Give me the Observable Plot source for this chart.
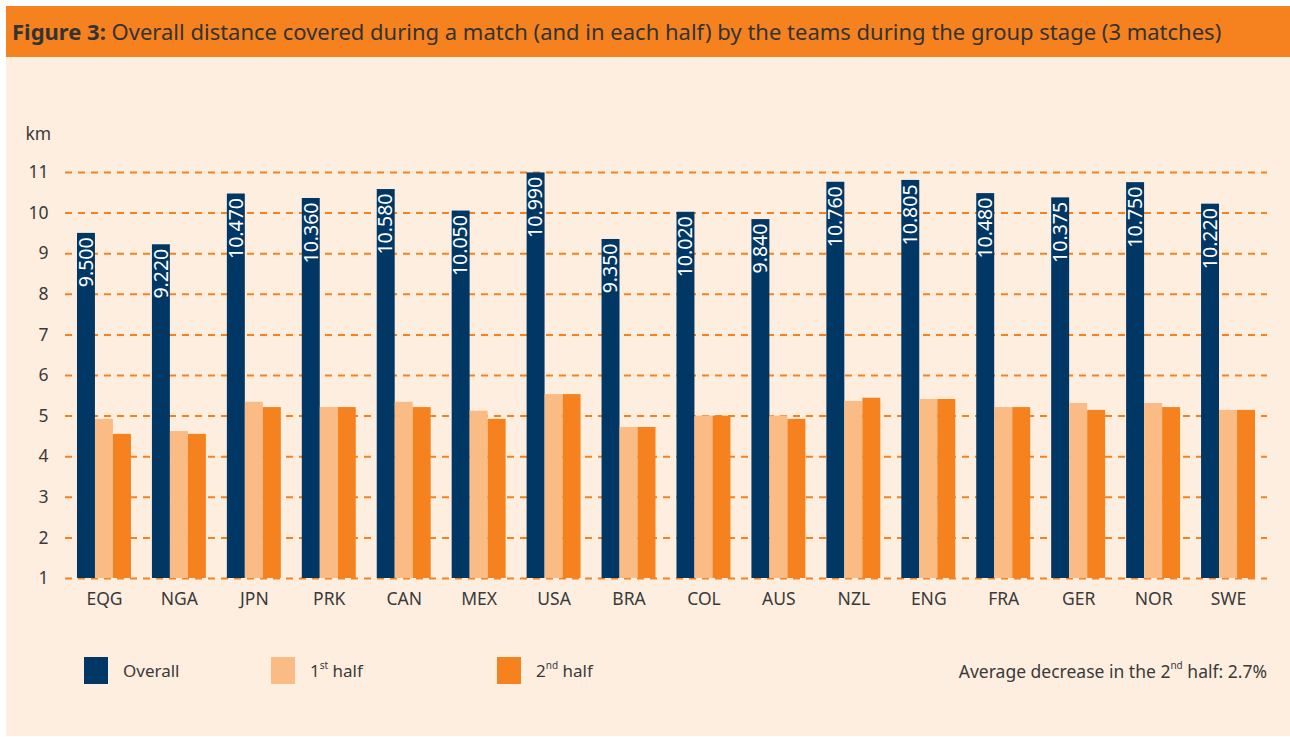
<!DOCTYPE html>
<html>
<head>
<meta charset="utf-8">
<script src="https://cdn.jsdelivr.net/npm/d3@7"></script>
<script src="https://cdn.jsdelivr.net/npm/@observablehq/plot@0.6"></script>
<style>
  html, body { margin: 0; padding: 0; background: #ffffff; }
  body { width: 1290px; height: 737px; position: relative; overflow: hidden; font-family: "Noto Sans", "Open Sans", sans-serif; }
  #header { position: absolute; left: 6px; top: 6px; width: 1284px; height: 51px; background: #F5821F; color: #333333; font-size: 22px; line-height: 51px; white-space: nowrap; box-sizing: border-box; padding-left: 6px; }
  #header b { font-weight: 700; }
  #panel { position: absolute; left: 6px; top: 57px; width: 1284px; height: 679px; background: #FEEEE0; }
  #chart { position: absolute; left: 0; top: 0; }
  .leg { position: absolute; top: 600px; height: 27px; display: flex; align-items: center; font-size: 17px; color: #3a3a3a; }
  .sw { width: 24px; height: 27px; margin-right: 15px; }
  sup { font-size: 10px; vertical-align: 0; position: relative; top: -6px; }
  #note { position: absolute; right: 23px; top: 600px; height: 27px; display: flex; align-items: center; font-size: 17.5px; color: #3a3a3a; white-space: nowrap; }
</style>
</head>
<body>
<div id="header"><b>Figure 3:</b> Overall distance covered during a match (and in each half) by the teams during the group stage (3 matches)</div>
<div id="panel">
  <div id="chart"></div>
  <div class="leg" style="left:78px"><div class="sw" style="background:#003764"></div>Overall</div>
  <div class="leg" style="left:265px"><div class="sw" style="background:#FBBB85"></div>1<sup>st</sup>&nbsp;half</div>
  <div class="leg" style="left:491px"><div class="sw" style="background:#F5821F"></div>2<sup>nd</sup>&nbsp;half</div>
  <div id="note">Average decrease in the 2<sup>nd</sup>&nbsp;half: 2.7%</div>
</div>
<script>
const teams = ["EQG","NGA","JPN","PRK","CAN","MEX","USA","BRA","COL","AUS","NZL","ENG","FRA","GER","NOR","SWE"];
const overall = [9.500, 9.220, 10.470, 10.360, 10.580, 10.050, 10.990, 9.350, 10.020, 9.840, 10.760, 10.805, 10.480, 10.375, 10.750, 10.220];
const firstHalf = [4.92, 4.62, 5.34, 5.21, 5.34, 5.12, 5.53, 4.72, 5.00, 5.00, 5.36, 5.41, 5.21, 5.31, 5.31, 5.14];
const secondHalf = [4.55, 4.55, 5.21, 5.21, 5.21, 4.92, 5.53, 4.72, 5.00, 4.92, 5.44, 5.41, 5.21, 5.14, 5.21, 5.14];
const yTicks = [1, 2, 3, 4, 5, 6, 7, 8, 9, 10, 11];
const unitLabel = ["km"];

const rows = teams.map((t, i) => ({team: t, overall: overall[i], first: firstHalf[i], second: secondHalf[i]}));

const chart = Plot.plot({
  width: 1284,
  height: 560,
  marginTop: 115,
  marginBottom: 39,
  marginLeft: 59,
  marginRight: 23,
  style: {background: "transparent", fontFamily: "'Noto Sans', 'Open Sans', sans-serif", fontSize: "17.5px", color: "#3a3a3a"},
  x: {domain: teams, paddingInner: 0.28, paddingOuter: 0.16, round: false, tickSize: 0, tickPadding: 14, label: null},
  y: {domain: [1, 11], ticks: yTicks, tickSize: 0, tickPadding: 17, label: null, tickFormat: d3.format("d")},
  marks: [
    Plot.ruleY(yTicks, {stroke: "#F5821F", strokeWidth: 2, strokeDasharray: "7,6"}),
    Plot.barY(rows, {x: "team", y1: 1, y2: "overall", fill: "#003764", insetRight: 36}),
    Plot.barY(rows, {x: "team", y1: 1, y2: "first", fill: "#FBBB85", insetLeft: 18, insetRight: 18}),
    Plot.barY(rows, {x: "team", y1: 1, y2: "second", fill: "#F5821F", insetLeft: 36}),
    Plot.text(rows, {x: "team", y: "overall", text: d => d3.format(".3f")(d.overall), rotate: -90, textAnchor: "end", dx: -18, dy: 4, fill: "white", fontSize: 19.5}),
    Plot.text(unitLabel, {text: d => d, frameAnchor: "top-left", dx: -40, dy: -45, textAnchor: "start", fontSize: 17.5, fill: "#3a3a3a"})
  ]
});
document.getElementById("chart").appendChild(chart);
</script>
</body>
</html>
